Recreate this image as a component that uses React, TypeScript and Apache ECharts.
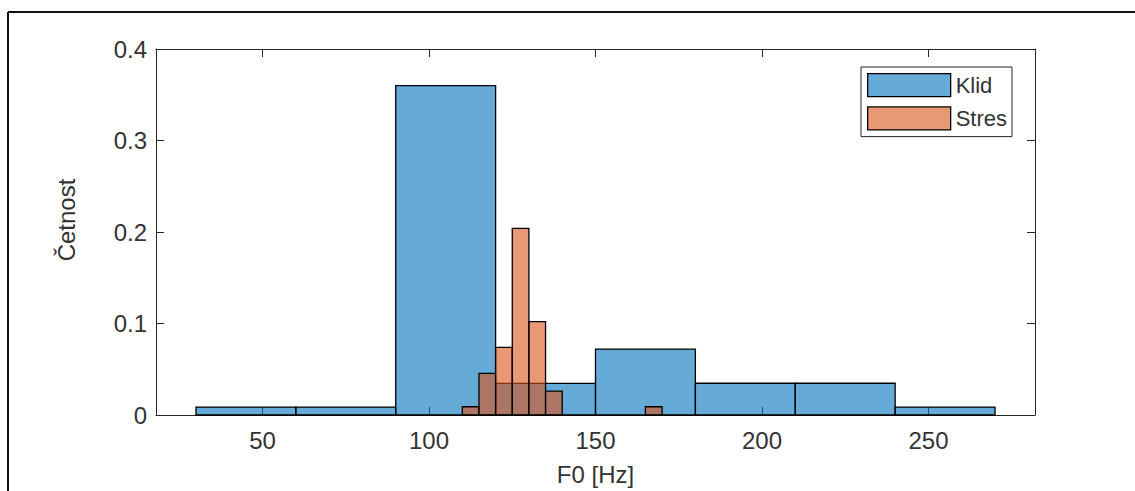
import React, { useEffect, useRef } from "react";
import * as echarts from "echarts";

// Histogram data
const klidBinStarts = [30, 60, 90, 120, 150, 180, 210, 240];
const klidBinWidth = 30;
const klidValues = [0.0087, 0.0087, 0.36, 0.0345, 0.072, 0.0347, 0.0347, 0.0087];

const stresBinStarts = [110, 115, 120, 125, 130, 135, 165];
const stresBinWidth = 5;
const stresValues = [0.009, 0.0455, 0.0738, 0.204, 0.102, 0.026, 0.009];

const seriesNames = ["Klid", "Stres"];
const xTickValues = [50, 100, 150, 200, 250];
const xLabel = "F0 [Hz]";
const yLabel = "Četnost";

const FONT = "'Liberation Sans', Arial, Helvetica, sans-serif";
const AXIS_COLOR = "#262626";
const TEXT_COLOR = "#333333";
const KLID_FILL = "rgba(0,114,189,0.6)";
const STRES_FILL = "rgba(217,83,25,0.6)";

function toData(starts: number[], width: number, values: number[]) {
  return starts.map((s, i) => [s, s + width, values[i]]);
}

function renderBin(fill: string) {
  return (params: any, api: any) => {
    const x0 = api.value(0);
    const x1 = api.value(1);
    const h = api.value(2);
    const p0 = api.coord([x0, h]);
    const p1 = api.coord([x1, 0]);
    return {
      type: "rect",
      shape: { x: p0[0], y: p0[1], width: p1[0] - p0[0], height: p1[1] - p0[1] },
      style: { fill, stroke: "#000", lineWidth: 1.3 },
    };
  };
}

export default function App() {
  const ref = useRef<HTMLDivElement>(null);

  useEffect(() => {
    if (!ref.current) return;
    const chart = echarts.init(ref.current, undefined, { renderer: "svg" });

    const xCommon = {
      type: "value" as const,
      min: 18,
      max: 282,
      splitLine: { show: false },
      axisLine: { show: true, onZero: false, lineStyle: { color: AXIS_COLOR, width: 1 } },
      axisTick: {
        show: true,
        inside: true,
        length: 8,
        customValues: xTickValues,
        lineStyle: { color: AXIS_COLOR, width: 1 },
      },
    };
    const yCommon = {
      type: "value" as const,
      min: 0,
      max: 0.4,
      interval: 0.1,
      splitLine: { show: false },
      axisLine: { show: true, onZero: false, lineStyle: { color: AXIS_COLOR, width: 1 } },
      axisTick: { show: true, inside: true, length: 8, lineStyle: { color: AXIS_COLOR, width: 1 } },
    };

    chart.setOption({
      animation: false,
      backgroundColor: "#ffffff",
      textStyle: { fontFamily: FONT },
      grid: { left: 156, top: 49, width: 879, height: 367 },
      legend: {
        orient: "vertical",
        left: 861,
        top: 67,
        padding: [6, 5, 6, 6],
        itemGap: 9,
        itemWidth: 83,
        itemHeight: 23,
        borderColor: AXIS_COLOR,
        borderWidth: 1,
        backgroundColor: "#ffffff",
        textStyle: { fontFamily: FONT, fontSize: 22, color: TEXT_COLOR },
        data: [
          { name: seriesNames[0], icon: "rect", itemStyle: { color: KLID_FILL, borderColor: "#000", borderWidth: 1.3 } },
          { name: seriesNames[1], icon: "rect", itemStyle: { color: STRES_FILL, borderColor: "#000", borderWidth: 1.3 } },
        ],
      },
      xAxis: [
        {
          ...xCommon,
          position: "bottom",
          name: xLabel,
          nameLocation: "middle",
          nameGap: 47,
          nameTextStyle: { fontFamily: FONT, fontSize: 24, color: TEXT_COLOR },
          axisLabel: {
            show: true,
            margin: 13,
            customValues: xTickValues,
            fontFamily: FONT,
            fontSize: 24,
            color: TEXT_COLOR,
          },
        },
        {
          ...xCommon,
          position: "top",
          axisLabel: { show: false },
        },
      ],
      yAxis: [
        {
          ...yCommon,
          position: "left",
          name: yLabel,
          nameLocation: "middle",
          nameGap: 78,
          nameTextStyle: { fontFamily: FONT, fontSize: 24, color: TEXT_COLOR, padding: [0, 0, 0, 24] },
          axisLabel: { show: true, margin: 9, fontFamily: FONT, fontSize: 24, color: TEXT_COLOR },
        },
        {
          ...yCommon,
          position: "right",
          axisLabel: { show: false },
        },
      ],
      graphic: [
        { type: "line", shape: { x1: 8, y1: 12, x2: 1135, y2: 12 }, style: { stroke: "#111", lineWidth: 2 } },
        { type: "line", shape: { x1: 8, y1: 12, x2: 8, y2: 491 }, style: { stroke: "#111", lineWidth: 2 } },
      ],
      series: [
        {
          name: seriesNames[0],
          type: "custom",
          xAxisIndex: 0,
          yAxisIndex: 0,
          renderItem: renderBin(KLID_FILL),
          itemStyle: { color: KLID_FILL, borderColor: "#000", borderWidth: 1.3 },
          encode: { x: [0, 1], y: 2 },
          data: toData(klidBinStarts, klidBinWidth, klidValues),
          z: 2,
        },
        {
          name: seriesNames[1],
          type: "custom",
          xAxisIndex: 0,
          yAxisIndex: 0,
          renderItem: renderBin(STRES_FILL),
          itemStyle: { color: STRES_FILL, borderColor: "#000", borderWidth: 1.3 },
          encode: { x: [0, 1], y: 2 },
          data: toData(stresBinStarts, stresBinWidth, stresValues),
          z: 3,
        },
      ],
    });

    return () => chart.dispose();
  }, []);

  return (
    <div
      ref={ref}
      style={{ position: "absolute", left: 0, top: 0, width: 1135, height: 491, background: "#fff" }}
    />
  );
}
